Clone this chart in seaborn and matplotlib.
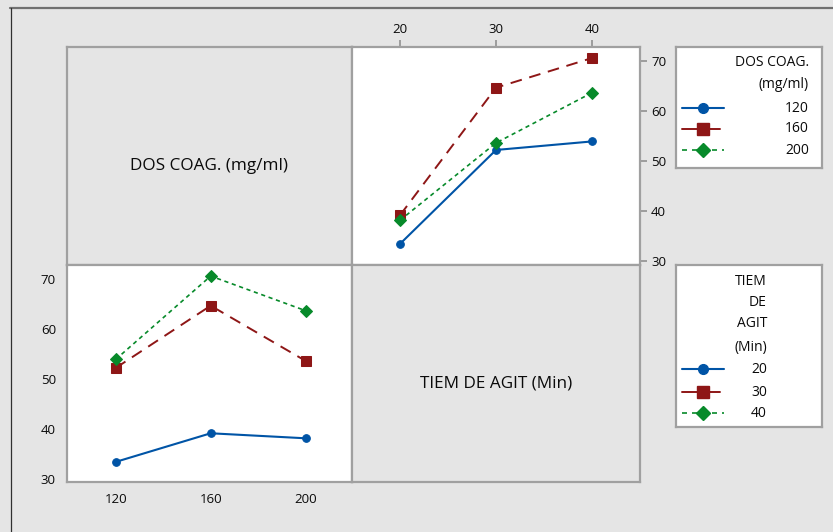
import numpy as np
import pandas as pd
import matplotlib
matplotlib.use("Agg")
import matplotlib.pyplot as plt
import seaborn as sns
from matplotlib.lines import Line2D

# ---- data (means) ----
tiem_levels = [20, 30, 40]          # TIEM DE AGIT (Min)
dos_levels = [120, 160, 200]        # DOS COAG. (mg/ml)
mean_dos120 = [33.5, 52.2, 53.9]    # at TIEM 20, 30, 40
mean_dos160 = [39.2, 64.6, 70.5]
mean_dos200 = [38.2, 53.6, 63.6]
x_ticks_tiem = [20, 30, 40]
x_ticks_dos = [120, 160, 200]
y_ticks = [30, 40, 50, 60, 70]

rows = []
for d, vals in zip(dos_levels, [mean_dos120, mean_dos160, mean_dos200]):
    for t, v in zip(tiem_levels, vals):
        rows.append({"DOS": d, "TIEM": t, "MEAN": v})
df = pd.DataFrame(rows)

sns.set_style("white")
plt.rcParams["font.family"] = ["Open Sans", "DejaVu Sans"]

BG = "#e5e5e5"
SPINE = "#a0a0a0"
TXT = "#0a0a0a"
colors = ["#0054a6", "#8e1616", "#078a2a"]
mk = ["o", "s", "D"]
msz = [5.5, 6.5, 6]
lws = [1.5, 1.4, 1.2]
dash = ["", (6, 4), (2.5, 2.2)]

W, H = 833, 532
fig = plt.figure(figsize=(W / 100, H / 100), dpi=100, facecolor=BG)

def ax_px(x0, y0, x1, y1):
    return fig.add_axes([x0 / W, 1 - y1 / H, (x1 - x0) / W, (y1 - y0) / H])

ax_tl = ax_px(67, 47, 352, 265)
ax_tr = ax_px(352, 47, 640, 265)
ax_bl = ax_px(67, 265, 352, 482)
ax_br = ax_px(352, 265, 640, 482)

for ax in (ax_tl, ax_br):
    ax.set_facecolor(BG)
    ax.set_xticks([]); ax.set_yticks([])
for ax in (ax_tl, ax_tr, ax_bl, ax_br):
    for s in ax.spines.values():
        s.set_color(SPINE); s.set_linewidth(1.6)

ax_tl.text(0.5, 0.455, "DOS COAG. (mg/ml)", ha="center", va="center",
           fontsize=12.3, color=TXT, transform=ax_tl.transAxes)
ax_br.text(0.5, 0.455, "TIEM DE AGIT (Min)", ha="center", va="center",
           fontsize=12.3, color=TXT, transform=ax_br.transAxes)

def style_lines(ax):
    for i, ln in enumerate(ax.lines[:3]):
        ln.set_color(colors[i]); ln.set_markerfacecolor(colors[i])
        ln.set_markeredgecolor(colors[i]); ln.set_markersize(msz[i])
        ln.set_linewidth(lws[i])

# top-right: x = TIEM, lines per DOS
sns.lineplot(data=df, x="TIEM", y="MEAN", hue="DOS", style="DOS",
             hue_order=dos_levels, style_order=dos_levels,
             palette=dict(zip(dos_levels, colors)),
             markers=dict(zip(dos_levels, mk)),
             dashes=dict(zip(dos_levels, dash)),
             legend=False, ax=ax_tr)
style_lines(ax_tr)
ax_tr.set_xlim(15, 45); ax_tr.set_ylim(29.3, 72.7)
ax_tr.set_xticks(x_ticks_tiem); ax_tr.set_yticks(y_ticks)
ax_tr.xaxis.tick_top(); ax_tr.yaxis.tick_right()

# bottom-left: x = DOS, lines per TIEM
sns.lineplot(data=df, x="DOS", y="MEAN", hue="TIEM", style="TIEM",
             hue_order=tiem_levels, style_order=tiem_levels,
             palette=dict(zip(tiem_levels, colors)),
             markers=dict(zip(tiem_levels, mk)),
             dashes=dict(zip(tiem_levels, dash)),
             legend=False, ax=ax_bl)
style_lines(ax_bl)
ax_bl.set_xlim(99.5, 219.5); ax_bl.set_ylim(29.5, 72.7)
ax_bl.set_xticks(x_ticks_dos); ax_bl.set_yticks(y_ticks)

for ax in (ax_tr, ax_bl):
    ax.set_facecolor("white")
    ax.set_xlabel(""); ax.set_ylabel("")
    ax.tick_params(axis="both", which="both", length=5, width=1.2,
                   color="#909090", labelsize=9.5, labelcolor=TXT, pad=3)
    ax.grid(False)

# ---- legends (drawn as boxes with keys) ----
def legend_box(x0, y0, x1, y1, title_lines, title_ys, title_x, labels, ys, lab_x):
    lax = ax_px(x0, y0, x1, y1)
    lax.set_xlim(x0, x1); lax.set_ylim(y1, y0)
    lax.set_xticks([]); lax.set_yticks([])
    lax.set_facecolor("white")
    for s in lax.spines.values():
        s.set_color(SPINE); s.set_linewidth(1.6)
    for t, y in zip(title_lines, title_ys):
        lax.text(title_x, y, t, ha="right", va="center", fontsize=10, color=TXT)
    for i, (lab, y) in enumerate(zip(labels, ys)):
        xe = 720 if i == 1 else 724
        key = Line2D([682, xe], [y, y], color=colors[i], lw=lws[i])
        if i == 2:
            key.set_dashes((3, 3))
        lax.add_line(key)
        lax.add_line(Line2D([703], [y], marker=mk[i], color=colors[i],
                            markersize=msz[i] + 1.5, linestyle="none"))
        lax.text(lab_x, y, str(lab), ha="right", va="center", fontsize=10, color=TXT)

legend_box(676, 47, 822, 168, ["DOS COAG.", "(mg/ml)"], [63, 85], 809,
           dos_levels, [108, 129, 150], 809)
legend_box(676, 265, 822, 427, ["TIEM", "DE", "AGIT", "(Min)"], [281, 302, 323, 347], 767,
           tiem_levels, [369, 392, 413], 767)

# outer frame fragments of the screenshot
fig.add_artist(Line2D([10 / W, 1], [1 - 7.5 / H, 1 - 7.5 / H], color="#707070", lw=1.6,
                      transform=fig.transFigure))
fig.add_artist(Line2D([10.5 / W, 10.5 / W], [0, 1 - 7.5 / H], color="#303030", lw=0.9,
                      transform=fig.transFigure))

fig.savefig("out.png", dpi=100, facecolor=BG)
